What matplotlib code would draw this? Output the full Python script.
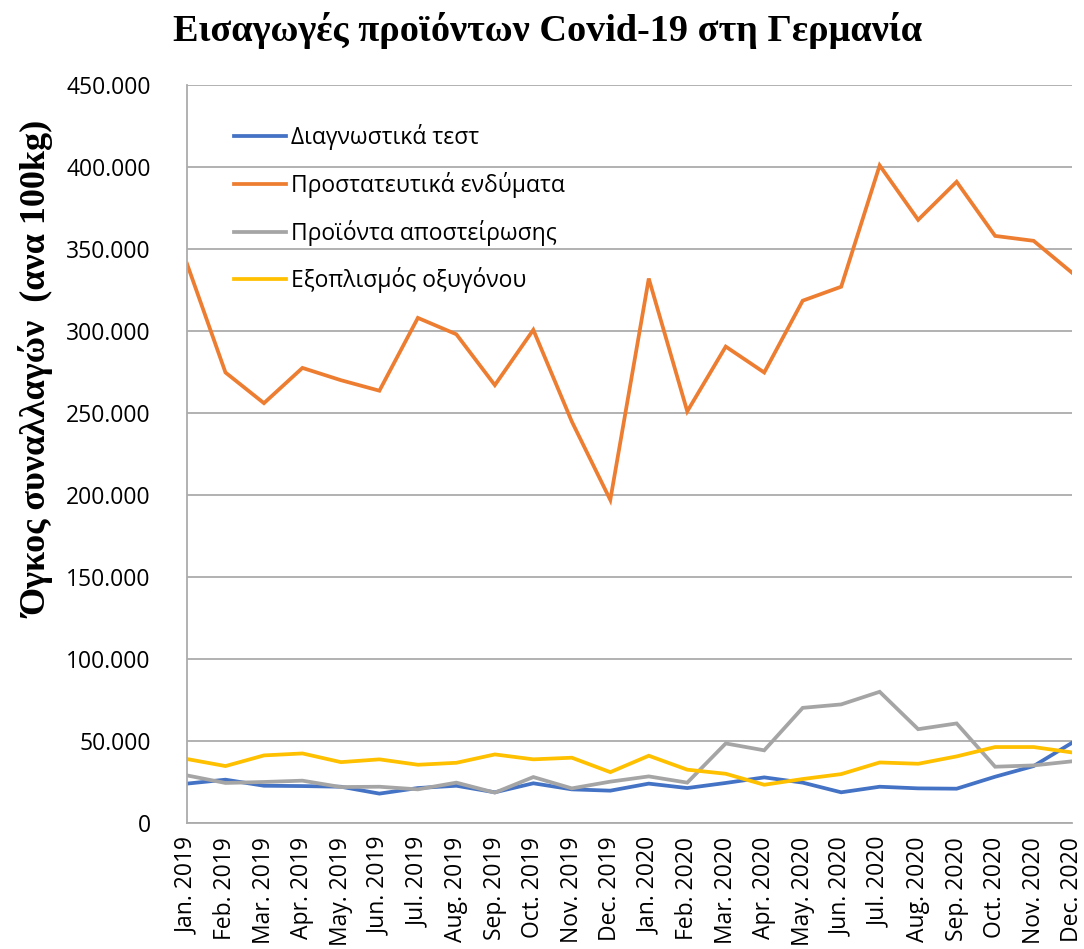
import numpy as np
import matplotlib
matplotlib.use('Agg')
import matplotlib.pyplot as plt

months = ['Jan. 2019', 'Feb. 2019', 'Mar. 2019', 'Apr. 2019', 'May. 2019', 'Jun. 2019',
          'Jul. 2019', 'Aug. 2019', 'Sep. 2019', 'Oct. 2019', 'Nov. 2019', 'Dec. 2019',
          'Jan. 2020', 'Feb. 2020', 'Mar. 2020', 'Apr. 2020', 'May. 2020', 'Jun. 2020',
          'Jul. 2020', 'Aug. 2020', 'Sep. 2020', 'Oct. 2020', 'Nov. 2020', 'Dec. 2020']

diagnostic = [24000, 26400, 22700, 22500, 22100, 17900, 21300, 22700, 18700, 24200, 20500, 19700,
              24000, 21300, 24400, 27800, 24600, 18700, 22100, 21100, 20900, 28200, 34700, 48900]
protective = [341000, 274700, 256000, 277500, 270000, 263600, 308000, 298000, 267000, 300700, 244800, 197000,
              332000, 251000, 290500, 274700, 318500, 327000, 401000, 367800, 391000, 358000, 355000, 335500]
sterilisation = [29000, 24400, 25000, 25800, 21900, 22100, 20500, 24600, 18500, 28000, 21100, 25200,
                 28400, 24600, 48500, 44300, 70200, 72300, 80000, 57200, 60700, 34300, 35100, 37600]
oxygen = [39000, 34700, 41200, 42400, 37100, 38800, 35500, 36700, 41800, 38800, 39800, 31000,
          41000, 32500, 30000, 23300, 26800, 29800, 36900, 36100, 40600, 46300, 46300, 43000]

labels = ['Διαγνωστικά τεστ', 'Προστατευτικά ενδύματα', 'Προϊόντα αποστείρωσης', 'Εξοπλισμός οξυγόνου']
colors = ['#4472C4', '#ED7D31', '#A5A5A5', '#FFC000']

plt.rcParams['font.family'] = ['Open Sans', 'DejaVu Sans']

fig = plt.figure(figsize=(10.84, 9.49), dpi=100)
ax = fig.add_axes([0.1725, 0.1328, 0.8165, 0.7776])

x = np.arange(len(months))
for series, lab, col in zip([diagnostic, protective, sterilisation, oxygen], labels, colors):
    ax.plot(x, series, color=col, linewidth=2.7, label=lab, solid_joinstyle='miter')

ax.set_xlim(0, len(months) - 1)
ax.set_ylim(0, 450000)
ax.set_yticks(np.arange(0, 450001, 50000))
ax.set_yticklabels(['0'] + ['{:,}'.format(v).replace(',', '.') for v in range(50000, 450001, 50000)])
ax.set_xticks(x)
ax.set_xticklabels(months, rotation=90)
ax.tick_params(axis='both', length=0, labelsize=16.5)
ax.tick_params(axis='y', pad=26)
ax.tick_params(axis='x', pad=10)

ax.grid(axis='y', color='#ababab', linewidth=1.3)
ax.set_axisbelow(True)
for s in ['top', 'right']:
    ax.spines[s].set_visible(False)
ax.spines['left'].set_color('#ababab')
ax.spines['left'].set_linewidth(1.3)
ax.spines['bottom'].set_color('#ababab')
ax.spines['bottom'].set_linewidth(1.3)

ax.legend(loc='upper left', bbox_to_anchor=(0.03, 0.975), frameon=False, fontsize=16.5,
          handlelength=2.25, handletextpad=0.25, labelspacing=0.95)

fig.text(0.505, 0.968, 'Εισαγωγές προϊόντων Covid-19 στη Γερμανία', ha='center', va='center',
         fontsize=27.5, fontweight='bold', family=['Liberation Serif', 'DejaVu Serif'])
fig.text(0.035, 0.61, 'Όγκος συναλλαγών  (ανα 100kg)', ha='center', va='center', rotation=90,
         fontsize=26, fontweight='bold', family=['Liberation Serif', 'DejaVu Serif'])

fig.savefig('out.png', dpi=100)
